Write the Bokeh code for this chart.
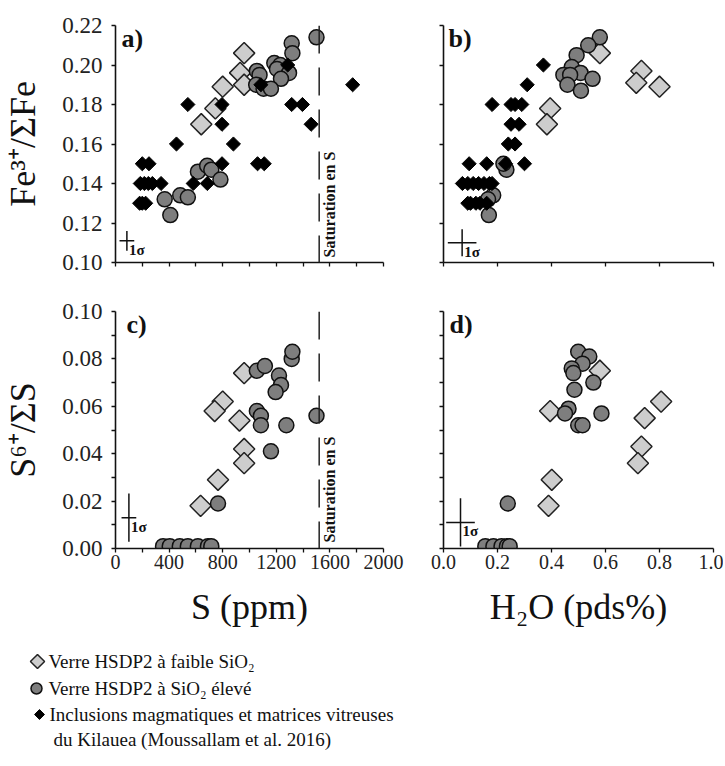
import math
from bokeh.plotting import figure
from bokeh.layouts import column, row
from bokeh.models import Range1d, FixedTicker, Span, Label, PrintfTickFormatter
from bokeh.embed import file_html
from bokeh.resources import INLINE
from bokeh.core.properties import value

FONT = "Liberation Serif"

# ---------------- ticks ----------------
S_TICKS = [0, 400, 800, 1200, 1600, 2000]
S_MINOR = [200, 600, 1000, 1400, 1800]
H2O_TICKS = [0.0, 0.2, 0.4, 0.6, 0.8, 1.0]
FE_TICKS = [0.10, 0.12, 0.14, 0.16, 0.18, 0.20, 0.22]
S6_TICKS = [0.00, 0.02, 0.04, 0.06, 0.08, 0.10]
S6_MINOR = [0.01, 0.03, 0.05, 0.07, 0.09]

SATURATION_S = 1520
SATURATION_TEXT = "Saturation en S"
PANEL_NAMES = ["a)", "b)", "c)", "d)"]
SIGMA_TEXT = "1σ"

# ---------------- panel a : S (ppm) vs Fe3+/ΣFe ----------------
a_low_s = [640, 745, 800, 930, 960, 960]
a_low_fe = [0.170, 0.178, 0.189, 0.196, 0.206, 0.190]
a_high_s = [1500, 1315, 1320, 1185, 1230, 1205, 1295, 1235, 1055, 1075, 1050, 1105, 1160,
            367, 409, 483, 540, 615, 684, 715, 783]
a_high_fe = [0.214, 0.211, 0.206, 0.201, 0.200, 0.198, 0.196, 0.193, 0.197, 0.195, 0.190, 0.188, 0.188,
             0.132, 0.124, 0.134, 0.133, 0.146, 0.149, 0.147, 0.142]
a_kil_s = [180, 200, 225, 185, 215, 245, 275, 340, 200, 250, 455, 540, 685, 580, 795, 795, 795,
           880, 1060, 1110, 1085, 1285, 1315, 1395, 1460, 1770]
a_kil_fe = [0.13, 0.13, 0.13, 0.14, 0.14, 0.14, 0.14, 0.14, 0.15, 0.15, 0.16, 0.18, 0.14, 0.14,
            0.18, 0.17, 0.15, 0.16, 0.15, 0.15, 0.19, 0.20, 0.18, 0.18, 0.17, 0.19]

# ---------------- panel b : H2O (wt%) vs Fe3+/ΣFe ----------------
b_low_h2o = [0.579, 0.733, 0.714, 0.800, 0.395, 0.383]
b_low_fe = [0.206, 0.197, 0.191, 0.189, 0.178, 0.170]
b_high_h2o = [0.579, 0.536, 0.493, 0.475, 0.508, 0.444, 0.469, 0.552, 0.459, 0.509,
              0.168, 0.184, 0.165, 0.233, 0.222]
b_high_fe = [0.214, 0.210, 0.205, 0.199, 0.196, 0.195, 0.195, 0.193, 0.190, 0.187,
             0.124, 0.134, 0.132, 0.147, 0.150]
b_kil_h2o = [0.09, 0.10, 0.12, 0.135, 0.16,
             0.07, 0.09, 0.11, 0.13, 0.15, 0.17, 0.18,
             0.095, 0.16, 0.23, 0.30,
             0.24, 0.265,
             0.25, 0.28,
             0.18, 0.25, 0.265, 0.29,
             0.31, 0.37]
b_kil_fe = [0.13, 0.13, 0.13, 0.13, 0.13,
            0.14, 0.14, 0.14, 0.14, 0.14, 0.14, 0.14,
            0.15, 0.15, 0.15, 0.15,
            0.16, 0.16,
            0.17, 0.17,
            0.18, 0.18, 0.18, 0.18,
            0.19, 0.20]

# ---------------- panel c : S (ppm) vs S6+/ΣS ----------------
c_low_s = [960, 800, 740, 925, 960, 960, 765, 635]
c_low_s6 = [0.074, 0.062, 0.058, 0.054, 0.042, 0.036, 0.029, 0.018]
c_high_s = [355, 405, 480, 540, 615, 690, 715, 765, 1055, 1115, 1220, 1235, 1195, 1315,
            1320, 1055, 1085, 1085, 1275, 1160, 1500]
c_high_s6 = [0.001, 0.001, 0.001, 0.001, 0.001, 0.001, 0.001, 0.019, 0.075, 0.077, 0.073,
             0.069, 0.066, 0.080, 0.083, 0.058, 0.056, 0.052, 0.052, 0.041, 0.056]

# ---------------- panel d : H2O (wt%) vs S6+/ΣS ----------------
d_low_h2o = [0.579, 0.395, 0.806, 0.745, 0.733, 0.720, 0.401, 0.389]
d_low_s6 = [0.075, 0.058, 0.062, 0.055, 0.043, 0.036, 0.029, 0.018]
d_high_h2o = [0.155, 0.185, 0.215, 0.235, 0.245, 0.238, 0.499, 0.540, 0.515, 0.475, 0.481,
              0.555, 0.485, 0.463, 0.450, 0.585, 0.499, 0.515]
d_high_s6 = [0.001, 0.001, 0.001, 0.001, 0.001, 0.019, 0.083, 0.081, 0.078, 0.076, 0.074,
             0.070, 0.067, 0.059, 0.057, 0.057, 0.052, 0.052]

# ---------------- 1 sigma error crosses (a, b, c, d) ----------------
ERR_X = [85, 0.069, 100, 0.063]
ERR_Y = [0.111, 0.110, 0.013, 0.011]
ERR_DX = [55, 0.053, 55, 0.053]
ERR_DY = [0.005, 0.0068, 0.0102, 0.0102]

LEGEND_LABELS = ["Verre HSDP2 à faible SiO₂",
                 "Verre HSDP2 à SiO₂ élevé",
                 "Inclusions magmatiques et matrices vitreuses",
                 "du Kilauea (Moussallam et al. 2016)"]

LOW_FILL = "#cdcdcd"
HIGH_FILL = "#7e7e7e"
INK = "#111111"


def panel(xr, yr, w, h, bl, br, bt, bb, xticks, xminor, yticks, yminor,
          xfmt, yfmt, show_x, show_y):
    p = figure(width=w, height=h, x_range=Range1d(*xr), y_range=Range1d(*yr),
               toolbar_location=None, output_backend="svg",
               min_border_left=bl, min_border_right=br,
               min_border_top=bt, min_border_bottom=bb)
    p.grid.visible = False
    p.outline_line_color = None
    p.background_fill_color = "white"
    p.border_fill_color = "white"
    p.xaxis.ticker = FixedTicker(ticks=xticks, minor_ticks=xminor)
    p.yaxis.ticker = FixedTicker(ticks=yticks, minor_ticks=yminor)
    p.xaxis.formatter = PrintfTickFormatter(format=xfmt)
    p.yaxis.formatter = PrintfTickFormatter(format=yfmt)
    for ax in (p.xaxis[0], p.yaxis[0]):
        ax.axis_line_width = 1.6
        ax.axis_line_color = INK
        ax.major_tick_line_color = INK
        ax.major_tick_line_width = 1.3
        ax.minor_tick_line_color = INK
        ax.minor_tick_line_width = 1.3
        ax.major_tick_in = 0
        ax.major_tick_out = 4
        ax.minor_tick_in = 0
        ax.minor_tick_out = 4
        ax.major_label_text_font = FONT
        ax.major_label_text_color = "#222222"
        ax.axis_label_text_font = FONT
        ax.axis_label_text_font_style = "normal"
        ax.axis_label_text_color = INK
        ax.axis_label_text_font_size = "36px"
    p.xaxis.major_label_text_font_size = "20px"
    p.xaxis.major_label_standoff = 2
    p.xaxis.axis_label_standoff = 15
    p.yaxis.major_label_text_font_size = "23px"
    p.yaxis.major_label_standoff = 9
    p.yaxis.axis_label_standoff = 16
    if not show_x:
        p.xaxis.major_label_overrides = {t: "" for t in xticks}
    if not show_y:
        p.yaxis.major_label_overrides = {t: "" for t in yticks}
    return p


def draw(p, lx, ly, hx, hy, kx=None, ky=None):
    p.scatter(lx, ly, marker="square", size=15, angle=math.pi / 4,
              fill_color=LOW_FILL, line_color="#222222", line_width=1.5)
    p.scatter(hx, hy, marker="circle", size=15,
              fill_color=HIGH_FILL, line_color=INK, line_width=1.5)
    if kx is not None:
        p.scatter(kx, ky, marker="square", size=10, angle=math.pi / 4,
                  fill_color="black", line_color="black", line_width=1)


def decorate(p, i, label_dx):
    ex, ey, dx, dy = ERR_X[i], ERR_Y[i], ERR_DX[i], ERR_DY[i]
    p.segment(x0=[ex - dx, ex], y0=[ey, ey - dy], x1=[ex + dx, ex], y1=[ey, ey + dy],
              line_color=INK, line_width=1.5)
    p.add_layout(Label(x=ex, y=ey, x_offset=2, y_offset=-1, text=SIGMA_TEXT,
                       text_font=FONT, text_font_size="15px", text_font_style="bold",
                       text_baseline="top", text_align="left", text_color=INK))
    p.add_layout(Label(x=p.x_range.start, y=p.y_range.end, x_offset=label_dx, y_offset=2,
                       text=PANEL_NAMES[i], text_font=FONT, text_font_size="26px",
                       text_font_style="bold", text_baseline="top", text_align="left",
                       text_color=INK))


def saturation(p, yoff):
    p.add_layout(Span(location=SATURATION_S, dimension="height", line_color="#222222",
                      line_width=1.5, line_dash="28 14"))
    p.add_layout(Label(x=SATURATION_S, y=p.y_range.start, x_offset=10, y_offset=yoff,
                       angle=math.pi / 2, text=SATURATION_TEXT, text_font=FONT,
                       text_font_size="16px", text_font_style="bold",
                       text_align="left", text_baseline="middle", text_color=INK))


# ---------------- panels (page has no body margin: origin is the window corner) ----------------
pa = panel((0, 2000), (0.10, 0.22), 408, 292, 114, 25, 25, 30,
           S_TICKS, S_MINOR, FE_TICKS, [], "%d", "%.2f", False, True)
pa.yaxis.axis_label = "Fe³⁺/ΣFe"
draw(pa, a_low_s, a_low_fe, a_high_s, a_high_fe, a_kil_s, a_kil_fe)
saturation(pa, 5)
decorate(pa, 0, 6)

pb = panel((0, 1.0), (0.10, 0.22), 315, 292, 35, 10, 25, 30,
           H2O_TICKS, [], FE_TICKS, [], "%.1f", "%.2f", False, False)
draw(pb, b_low_h2o, b_low_fe, b_high_h2o, b_high_fe, b_kil_h2o, b_kil_fe)
decorate(pb, 1, 5)

pc = panel((0, 2000), (0.0, 0.10), 408, 341, 114, 25, 19, 85,
           S_TICKS, S_MINOR, S6_TICKS, S6_MINOR, "%d", "%.2f", True, True)
pc.yaxis.axis_label = "S⁶⁺/ΣS"
pc.xaxis.axis_label = "S (ppm)"
draw(pc, c_low_s, c_low_s6, c_high_s, c_high_s6)
saturation(pc, 6)
decorate(pc, 2, 11)

pd_ = panel((0, 1.0), (0.0, 0.10), 315, 341, 35, 10, 19, 85,
            H2O_TICKS, [], S6_TICKS, S6_MINOR, "%.1f", "%.2f", True, False)
pd_.xaxis.axis_label = "H₂O (pds%)"
draw(pd_, d_low_h2o, d_low_s6, d_high_h2o, d_high_s6)
decorate(pd_, 3, 6)

# ---------------- legend ----------------
leg = figure(width=440, height=125, x_range=Range1d(0, 440), y_range=Range1d(125, 0),
             toolbar_location=None, output_backend="svg", x_axis_type=None,
             y_axis_type=None, min_border=0)
leg.outline_line_color = None
leg.grid.visible = False
leg.scatter([37], [28], marker="square", size=10, angle=math.pi / 4,
            fill_color=LOW_FILL, line_color="#222222", line_width=1.5)
leg.scatter([36], [55], marker="circle", size=11,
            fill_color=HIGH_FILL, line_color=INK, line_width=1.5)
leg.scatter([39], [81], marker="square", size=7, angle=math.pi / 4,
            fill_color="black", line_color="black")
leg.text(x=[48, 48, 49, 53], y=[28, 55, 81, 106], text=LEGEND_LABELS,
         text_font=value(FONT), text_font_size="19px", text_color=INK,
         text_baseline="middle", text_align="left")

layout = column(row(pa, pb), row(pc, pd_), leg)

open("out.html", "w").write(file_html(layout, INLINE))
